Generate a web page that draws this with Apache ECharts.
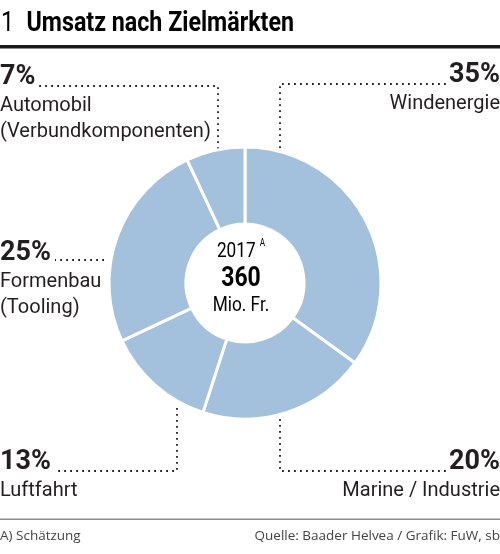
<!DOCTYPE html>
<html>
<head>
<meta charset="utf-8">
<script src="https://cdn.jsdelivr.net/npm/echarts@6/dist/echarts.min.js"></script>
<style>
html,body{margin:0;padding:0;background:#fff;}
#c{width:500px;height:554px;}
</style>
</head>
<body>
<div id="c"></div>
<script>
// ---- data ----
const categories = ['Windenergie', 'Marine / Industrie', 'Luftfahrt', 'Formenbau\n(Tooling)', 'Automobil\n(Verbundkomponenten)'];
const shares = [35, 20, 13, 25, 7];
const titleNumber = '1';
const titleText = 'Umsatz nach Zielmärkten';
const centerYear = '2017';
const centerNote = 'A';
const centerValue = '360';
const centerUnit = 'Mio. Fr.';
const footnote = 'A) Schätzung';
const source = 'Quelle: Baader Helvea / Grafik: FuW, sb';

// ---- layout ----
const FONT = 'Roboto, "Liberation Sans", sans-serif';
const CX = 245, CY = 283;
const labelPlaces = [
  {x: 500, y: 60, align: 'right', pts: [[280, 148], [280, 84], [447, 84]]},
  {x: 500, y: 447, align: 'right', pts: [[280, 419], [280, 471], [446, 471]]},
  {x: 0, y: 447, align: 'left', pts: [[177, 408], [177, 471], [55, 471]]},
  {x: 0, y: 238, align: 'left', pts: [[104, 260], [80, 260], [55, 260]]},
  {x: 0, y: 62, align: 'left', pts: [[218, 149], [218, 86], [38, 86]]}
];

const chart = echarts.init(document.getElementById('c'), null, {renderer: 'canvas'});
chart.setOption({
  animation: false,
  series: [{
    type: 'pie',
    center: [CX, CY],
    radius: [59, 136],
    startAngle: 90,
    clockwise: true,
    avoidLabelOverlap: false,
    silent: true,
    itemStyle: {color: '#a3c0dd', borderColor: '#ffffff', borderWidth: 3},
    label: {
      show: true,
      position: 'outside',
      overflow: 'none',
      fontFamily: FONT,
      formatter: function (p) {
        const lines = String(p.name).split('\n').map(function (s) { return '{n|' + s + '}'; });
        return '{p|' + p.value + '%}\n' + lines.join('\n');
      },
      rich: {
        p: {fontFamily: FONT, fontSize: 27, fontWeight: 'bold', color: '#231f20', lineHeight: 31},
        n: {fontFamily: FONT, fontSize: 20, color: '#231f20', lineHeight: 26}
      }
    },
    labelLine: {
      show: true,
      smooth: false,
      lineStyle: {color: '#231f20', width: 1.8, type: [1.8, 4.2], cap: 'butt'}
    },
    labelLayout: function (params) {
      const L = labelPlaces[params.dataIndex];
      return {x: L.x, y: L.y, align: L.align, verticalAlign: 'top', labelLinePoints: L.pts};
    },
    data: categories.map(function (c, i) { return {name: c, value: shares[i]}; })
  }],
  graphic: [
    {
      type: 'text', x: 1, y: 10, scaleX: 0.83,
      style: {
        text: '{a|' + titleNumber + '}{b|' + titleText + '}',
        rich: {
          a: {fontFamily: FONT, fontSize: 28, color: '#1a1a1a', padding: [0, 15, 0, 0]},
          b: {fontFamily: FONT, fontSize: 28, fontWeight: 'bold', color: '#1a1a1a'}
        }
      }
    },
    {type: 'rect', shape: {x: 0, y: 45, width: 500, height: 3.5}, style: {fill: '#1a1a1a'}},
    {
      type: 'text', x: CX - 4, y: CY - 4, scaleX: 0.82,
      style: {
        text: '{y|' + centerYear + '}{s|' + centerNote + '}\n{v|' + centerValue + '}\n{u|' + centerUnit + '}',
        align: 'center', verticalAlign: 'middle',
        rich: {
          y: {fontFamily: FONT, fontSize: 21, color: '#2b3587', lineHeight: 27},
          s: {fontFamily: FONT, fontSize: 10, color: '#2b3587', lineHeight: 27, verticalAlign: 'top', padding: [0, 0, 8, 5]},
          v: {fontFamily: FONT, fontSize: 28, fontWeight: 'bold', color: '#2b3587', lineHeight: 27},
          u: {fontFamily: FONT, fontSize: 21, color: '#2b3587', lineHeight: 27}
        }
      }
    },
    {type: 'rect', shape: {x: 0, y: 518.5, width: 500, height: 1.5}, style: {fill: '#8c8c8c'}},
    {
      type: 'text', x: 0, y: 536,
      style: {text: footnote, fontFamily: '"Open Sans", "Noto Sans", sans-serif', fontSize: 13.5, fill: '#444', align: 'left', verticalAlign: 'middle'}
    },
    {
      type: 'text', x: 500, y: 536,
      style: {text: source, fontFamily: '"Open Sans", "Noto Sans", sans-serif', fontSize: 13.5, fill: '#444', align: 'right', verticalAlign: 'middle'}
    }
  ]
});
</script>
</body>
</html>
